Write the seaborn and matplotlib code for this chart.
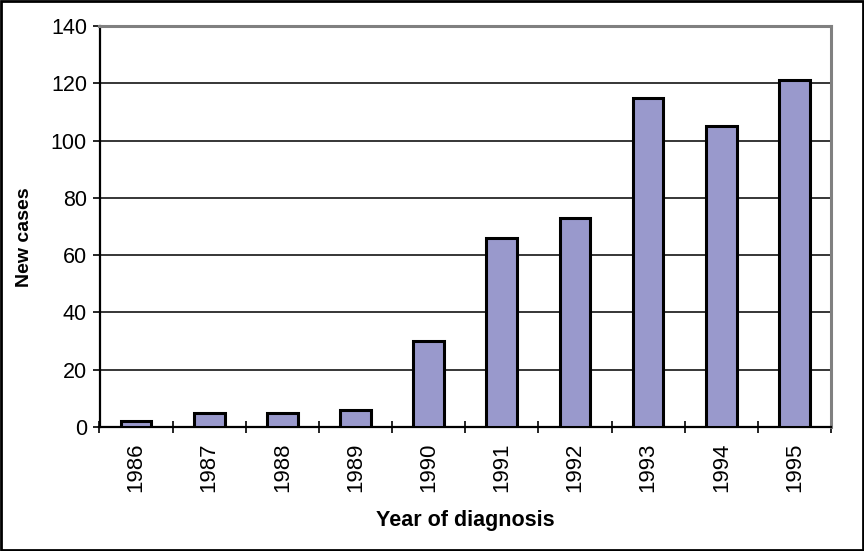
import matplotlib
matplotlib.use("Agg")
import matplotlib.pyplot as plt
import seaborn as sns
import pandas as pd
from matplotlib.patches import Rectangle
from matplotlib.ticker import FixedLocator

years = ["1986", "1987", "1988", "1989", "1990", "1991", "1992", "1993", "1994", "1995"]
new_cases = [2, 5, 5, 6, 30, 66, 73, 115, 105, 121]
y_ticks = [0, 20, 40, 60, 80, 100, 120, 140]

sns.set_theme(style="white")
plt.rcParams["font.family"] = ["Liberation Sans", "DejaVu Sans"]

df = pd.DataFrame({"Year": years, "Cases": new_cases})

fig = plt.figure(figsize=(8.64, 5.51), dpi=100)
ax = fig.add_axes([99.5 / 864, 1 - 427 / 551, 731.5 / 864, 401 / 551])

sns.barplot(data=df, x="Year", y="Cases", ax=ax, color="#9999CC",
            edgecolor="black", linewidth=2.2, width=0.42, saturation=1, zorder=3)

ax.set_ylim(0, 140)
ax.set_xlim(-0.5, len(years) - 0.5)
ax.set_yticks(y_ticks)
ax.yaxis.grid(True, color="black", linewidth=1.1, zorder=0)
ax.set_axisbelow(True)

for s in ["left", "bottom"]:
    ax.spines[s].set_color("black")
    ax.spines[s].set_linewidth(1.6)
for s in ["top", "right"]:
    ax.spines[s].set_color("#808080")
    ax.spines[s].set_linewidth(2.2)
    ax.spines[s].set_visible(True)

ax.tick_params(axis="y", which="major", left=True, length=5, width=1.2,
               color="black", pad=4, labelsize=15.5, labelcolor="black")
ax.tick_params(axis="x", which="major", bottom=False, length=0, pad=11,
               labelsize=16, labelcolor="black", labelrotation=90)
ax.xaxis.set_minor_locator(FixedLocator([i - 0.5 for i in range(len(years) + 1)]))
ax.tick_params(axis="x", which="minor", bottom=True, direction="inout",
               length=9, width=1.2, color="black")
for lab in ax.get_xticklabels():
    lab.set_va("top")

ax.set_xlabel("Year of diagnosis", fontsize=15.5, fontweight="bold", color="black")
ax.set_ylabel("New cases", fontsize=14, fontweight="bold", color="black")
ax.xaxis.set_label_coords(0.5, -0.232)
ax.xaxis.label.set_va("center")
ax.yaxis.set_label_coords(-0.103, 0.474)
ax.yaxis.label.set_va("center")

fig.patches.append(Rectangle((0.001, 0.001), 0.998, 0.997, transform=fig.transFigure,
                             fill=False, edgecolor="black", linewidth=2))

fig.savefig("out.png", dpi=100, facecolor="white")
